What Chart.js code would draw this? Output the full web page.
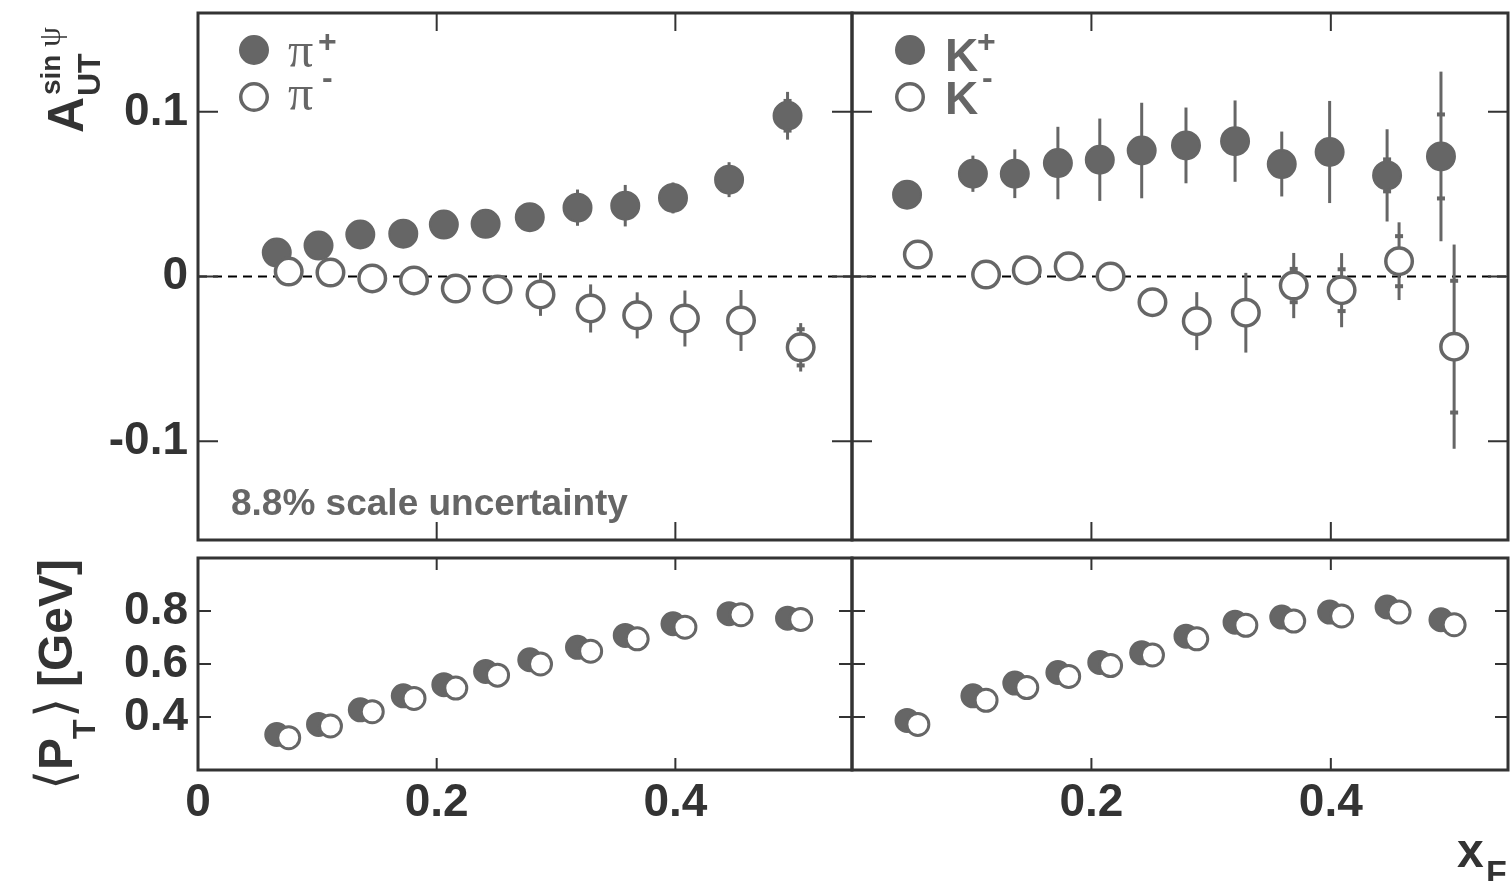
<!DOCTYPE html>
<html>
<head>
<meta charset="utf-8">
<script src="https://cdn.jsdelivr.net/npm/chart.js@4.4.1/dist/chart.umd.min.js"></script>
<style>
  html, body { margin: 0; padding: 0; background: #fff; }
  #wrap { position: relative; width: 1511px; height: 881px; overflow: hidden; }
  #wrap canvas { position: absolute; left: 0; top: 0; }
</style>
</head>
<body>
<div id="wrap">
  <canvas id="asymPion" width="1511" height="881"></canvas>
  <canvas id="asymKaon" width="1511" height="881"></canvas>
  <canvas id="ptPion" width="1511" height="881"></canvas>
  <canvas id="ptKaon" width="1511" height="881"></canvas>
</div>
<script>
// x_F bin centres
const xPiPlus  = [0.066, 0.101, 0.136, 0.172, 0.206, 0.241, 0.278, 0.318, 0.358, 0.398, 0.445, 0.494];
const xPiMinus = [0.076, 0.111, 0.146, 0.181, 0.216, 0.251, 0.287, 0.329, 0.368, 0.408, 0.455, 0.505];
const xKPlus   = [0.046, 0.101, 0.136, 0.172, 0.207, 0.242, 0.279, 0.320, 0.359, 0.399, 0.447, 0.492];
const xKMinus  = [0.055, 0.112, 0.146, 0.181, 0.216, 0.251, 0.288, 0.329, 0.369, 0.409, 0.457, 0.503];

// A_UT^{sin psi} with stat errors and syst errors
const aPiPlus    = [0.0145, 0.0188, 0.0255, 0.026, 0.0315, 0.032, 0.036, 0.0418, 0.043, 0.0477, 0.0588, 0.0976];
const errPiPlus  = [0.003, 0.003, 0.004, 0.004, 0.005, 0.005, 0.006, 0.011, 0.0126, 0.0094, 0.0106, 0.0145];
const sysPiPlus  = [0, 0, 0, 0, 0, 0, 0, 0, 0, 0, 0, 0.009];
const aPiMinus   = [0.003, 0.0024, -0.0012, -0.0024, -0.0073, -0.0079, -0.0109, -0.0194, -0.0236, -0.0255, -0.0267, -0.043];
const errPiMinus = [0.004, 0.004, 0.005, 0.005, 0.006, 0.007, 0.013, 0.0146, 0.014, 0.017, 0.0185, 0.0147];
const sysPiMinus = [0, 0, 0, 0, 0, 0, 0, 0, 0, 0, 0, 0.011];
const aKPlus     = [0.0497, 0.0624, 0.0624, 0.0689, 0.0709, 0.0765, 0.0796, 0.0822, 0.0683, 0.0756, 0.0614, 0.0729];
const errKPlus   = [0.006, 0.011, 0.0148, 0.022, 0.025, 0.029, 0.023, 0.0247, 0.0197, 0.031, 0.028, 0.0515];
const sysKPlus   = [0, 0, 0, 0, 0, 0, 0, 0, 0, 0, 0.0097, 0.0255];
const aKMinus    = [0.0133, 0.0012, 0.0038, 0.0062, 0.0, -0.0156, -0.0271, -0.022, -0.0055, -0.0083, 0.0093, -0.0426];
const errKMinus  = [0.005, 0.006, 0.006, 0.007, 0.007, 0.008, 0.0176, 0.0242, 0.0198, 0.0225, 0.0236, 0.062];
const sysKMinus  = [0, 0, 0, 0, 0, 0, 0, 0, 0.0101, 0.0127, 0.0152, 0.04];

// <P_T> in GeV
const ptPiPlus  = [0.334, 0.372, 0.427, 0.480, 0.522, 0.572, 0.616, 0.663, 0.708, 0.752, 0.790, 0.773];
const ptPiMinus = [0.322, 0.366, 0.420, 0.470, 0.509, 0.558, 0.600, 0.648, 0.695, 0.739, 0.786, 0.768];
const ptKPlus   = [0.387, 0.480, 0.528, 0.568, 0.606, 0.642, 0.705, 0.758, 0.777, 0.796, 0.815, 0.767];
const ptKMinus  = [0.372, 0.463, 0.511, 0.553, 0.594, 0.634, 0.695, 0.746, 0.762, 0.781, 0.796, 0.748];

const GREY = '#666666';
const INK = '#333333';
const SANS = '"Liberation Sans", Arial, Helvetica, sans-serif';
const SERIF = '"Liberation Serif", "Times New Roman", "DejaVu Serif", serif';
const PAGE_W = 1511, PAGE_H = 881;
const AXIS_W = 150, AXIS_H = 90;
const X_MAX = 0.548;

Chart.defaults.font.family = SANS;

function points(xs, ys) {
  return xs.map((x, i) => ({x: x, y: ys[i]}));
}

function is_multiple(v, step) {
  return Math.abs(v / step - Math.round(v / step)) < 1e-6;
}

function marker_set(label, xs, ys, filled, outer, border, errs, sys) {
  return {
    label: label,
    data: points(xs, ys),
    errY: errs || null,
    sysY: sys || null,
    pointStyle: 'circle',
    pointRadius: outer - border / 2,
    pointBorderWidth: border,
    pointBackgroundColor: filled ? GREY : '#ffffff',
    pointBorderColor: GREY,
    showLine: false
  };
}

function draw_marker(ctx, x, y, filled) {
  ctx.beginPath();
  ctx.arc(x, y, filled ? 14 : 13.25, 0, Math.PI * 2);
  ctx.fillStyle = filled ? GREY : '#ffffff';
  ctx.fill();
  ctx.lineWidth = filled ? 2 : 3.5;
  ctx.strokeStyle = GREY;
  ctx.stroke();
}

function text_at(ctx, str, x, y, font, colour) {
  ctx.font = font;
  ctx.fillStyle = colour;
  ctx.fillText(str, x, y);
}

// extra text / legend per panel, drawn after the chart
const panelText = {
  asymPion: function(ctx) {
    draw_marker(ctx, 254, 50, true);
    draw_marker(ctx, 254, 97, false);
    text_at(ctx, 'π', 288, 67, '50px ' + SERIF, GREY);
    text_at(ctx, '+', 318, 52, 'bold 32px ' + SANS, GREY);
    text_at(ctx, 'π', 288, 110, '50px ' + SERIF, GREY);
    text_at(ctx, '-', 322, 88, 'bold 32px ' + SANS, GREY);
    text_at(ctx, '8.8% scale uncertainty', 231, 515, 'bold 37px ' + SANS, GREY);

    // A_UT^{sin psi}, rotated
    ctx.save();
    ctx.translate(83, 133);
    ctx.rotate(-Math.PI / 2);
    text_at(ctx, 'A', 0, 0, 'bold 50px ' + SANS, INK);
    text_at(ctx, 'sin', 38, -23, 'bold 28px ' + SANS, INK);
    text_at(ctx, 'ψ', 86, -23, '32px ' + SERIF, INK);
    text_at(ctx, 'UT', 37, 17, 'bold 32px ' + SANS, INK);
    ctx.restore();
  },
  asymKaon: function(ctx) {
    draw_marker(ctx, 910, 50, true);
    draw_marker(ctx, 910, 97, false);
    text_at(ctx, 'K', 945, 71, 'bold 46px ' + SANS, GREY);
    text_at(ctx, '+', 977, 52, 'bold 32px ' + SANS, GREY);
    text_at(ctx, 'K', 945, 114, 'bold 46px ' + SANS, GREY);
    text_at(ctx, '-', 982, 88, 'bold 32px ' + SANS, GREY);
  },
  ptPion: function(ctx) {
    // <P_T> [GeV], rotated
    ctx.save();
    ctx.translate(72, 790);
    ctx.rotate(-Math.PI / 2);
    text_at(ctx, '⟨', 0, 0, '52px "DejaVu Sans", sans-serif', INK);
    text_at(ctx, 'P', 20, 0, 'bold 48px ' + SANS, INK);
    text_at(ctx, 'T', 51, 23, 'bold 32px ' + SANS, INK);
    text_at(ctx, '⟩', 72, 0, '52px "DejaVu Sans", sans-serif', INK);
    text_at(ctx, '[GeV]', 103, 0, 'bold 48px ' + SANS, INK);
    ctx.restore();
  },
  ptKaon: function(ctx) {
    text_at(ctx, 'x', 1457, 867, 'bold 48px ' + SANS, INK);
    text_at(ctx, 'F', 1486, 884, 'bold 34px ' + SANS, INK);
  }
};

const panelDeco = {
  id: 'panelDeco',
  beforeDatasetsDraw(chart, args, o) {
    const ctx = chart.ctx;
    const a = chart.chartArea;
    const x = chart.scales.x, y = chart.scales.y;
    ctx.save();
    ctx.beginPath();
    ctx.rect(a.left, a.top, a.right - a.left, a.bottom - a.top);
    ctx.clip();
    if (o.zeroLine) {
      const py = y.getPixelForValue(0);
      ctx.setLineDash([9, 6]);
      ctx.lineWidth = 2;
      ctx.strokeStyle = '#000000';
      ctx.beginPath();
      ctx.moveTo(a.left, py);
      ctx.lineTo(a.right, py);
      ctx.stroke();
      ctx.setLineDash([]);
    }
    chart.data.datasets.forEach(ds => {
      if (!ds.errY) return;
      ctx.strokeStyle = GREY;
      ctx.fillStyle = GREY;
      ctx.lineWidth = 3;
      ds.data.forEach((p, i) => {
        const px = x.getPixelForValue(p.x);
        ctx.beginPath();
        ctx.moveTo(px, y.getPixelForValue(p.y + ds.errY[i]));
        ctx.lineTo(px, y.getPixelForValue(p.y - ds.errY[i]));
        ctx.stroke();
        if (ds.sysY && ds.sysY[i]) {
          ctx.fillRect(px - 4, y.getPixelForValue(p.y + ds.sysY[i]) - 2, 8, 4);
          ctx.fillRect(px - 4, y.getPixelForValue(p.y - ds.sysY[i]) - 2, 8, 4);
        }
      });
    });
    ctx.restore();
  },
  afterDraw(chart, args, o) {
    const ctx = chart.ctx;
    const a = chart.chartArea;
    const x = chart.scales.x, y = chart.scales.y;
    ctx.save();
    ctx.strokeStyle = INK;
    ctx.lineWidth = 2;
    ctx.beginPath();
    x.ticks.forEach(t => {
      if (t.value <= x.min + 1e-9 || t.value >= x.max - 1e-9) return;
      const px = x.getPixelForValue(t.value);
      const len = is_multiple(t.value, 0.2) ? o.xTick[1] : o.xTick[0];
      ctx.moveTo(px, a.bottom); ctx.lineTo(px, a.bottom - len);
      ctx.moveTo(px, a.top); ctx.lineTo(px, a.top + len);
    });
    y.ticks.forEach(t => {
      if (t.value <= y.min + 1e-9 || t.value >= y.max - 1e-9) return;
      const py = y.getPixelForValue(t.value);
      const len = is_multiple(t.value, o.yMajor) ? o.yTick[1] : o.yTick[0];
      ctx.moveTo(a.left, py); ctx.lineTo(a.left + len, py);
      ctx.moveTo(a.right, py); ctx.lineTo(a.right - len, py);
    });
    ctx.stroke();
    ctx.lineWidth = 3;
    ctx.strokeRect(a.left, a.top, a.right - a.left, a.bottom - a.top);
    ctx.restore();

    ctx.save();
    ctx.textAlign = 'left';
    ctx.textBaseline = 'alphabetic';
    if (panelText[chart.canvas.id]) panelText[chart.canvas.id](ctx);
    ctx.restore();
  }
};

function render_panel(id, cfg) {
  return new Chart(document.getElementById(id), {
    type: 'scatter',
    data: { datasets: cfg.datasets },
    options: {
      responsive: false,
      animation: false,
      devicePixelRatio: 1,
      events: [],
      layout: {
        autoPadding: false,
        padding: {
          left: cfg.left - (cfg.yLabels ? AXIS_W : 0),
          top: cfg.top,
          right: PAGE_W - cfg.right,
          bottom: PAGE_H - cfg.bottom - (cfg.xLabels ? AXIS_H : 0)
        }
      },
      plugins: {
        legend: { display: false },
        tooltip: { enabled: false },
        panelDeco: { zeroLine: cfg.zeroLine, xTick: cfg.xTick, yTick: cfg.yTick, yMajor: cfg.yMajor }
      },
      scales: {
        x: {
          type: 'linear',
          min: 0,
          max: X_MAX,
          afterFit: s => {
            s.height = cfg.xLabels ? AXIS_H : 0;
            s.paddingLeft = 0;
            s.paddingRight = 0;
          },
          grid: { display: false, drawTicks: false },
          border: { display: false },
          ticks: {
            display: cfg.xLabels,
            stepSize: 0.05,
            maxTicksLimit: 100,
            autoSkip: false,
            includeBounds: false,
            maxRotation: 0,
            padding: 6,
            color: INK,
            font: { size: 46, weight: 'bold' },
            callback: v => {
              if (!is_multiple(v, 0.2)) return null;
              if (cfg.skipZero && Math.abs(v) < 1e-9) return null;
              return String(+v.toFixed(1));
            }
          }
        },
        y: {
          type: 'linear',
          min: cfg.yMin,
          max: cfg.yMax,
          afterFit: s => {
            s.width = cfg.yLabels ? AXIS_W : 0;
            s.paddingTop = 0;
            s.paddingBottom = 0;
          },
          grid: { display: false, drawTicks: false },
          border: { display: false },
          ticks: {
            display: cfg.yLabels,
            stepSize: cfg.yStep,
            maxTicksLimit: 100,
            autoSkip: false,
            includeBounds: false,
            padding: 10,
            color: INK,
            font: { size: 46, weight: 'bold' },
            callback: v => {
              if (!is_multiple(v, cfg.yMajor)) return null;
              if (v <= cfg.yMin + 1e-9 || v >= cfg.yMax - 1e-9) return null;
              return String(+v.toFixed(1));
            }
          }
        }
      }
    },
    plugins: [panelDeco]
  });
}

const topPanel = { top: 13, bottom: 540, yMin: -0.16, yMax: 0.16, yStep: 0.02, yMajor: 0.1,
  zeroLine: true, xLabels: false, xTick: [10, 18], yTick: [10, 20] };
const lowPanel = { top: 558, bottom: 770, yMin: 0.2, yMax: 1.0, yStep: 0.05, yMajor: 0.2,
  zeroLine: false, xLabels: true, xTick: [7, 12], yTick: [7, 13] };

render_panel('asymPion', Object.assign({}, topPanel, {
  left: 198, right: 852, yLabels: true,
  datasets: [
    marker_set('π-', xPiMinus, aPiMinus, false, 15, 3.5, errPiMinus, sysPiMinus),
    marker_set('π+', xPiPlus, aPiPlus, true, 15, 2, errPiPlus, sysPiPlus)
  ]
}));

render_panel('asymKaon', Object.assign({}, topPanel, {
  left: 852, right: 1508, yLabels: false,
  datasets: [
    marker_set('K-', xKMinus, aKMinus, false, 15, 3.5, errKMinus, sysKMinus),
    marker_set('K+', xKPlus, aKPlus, true, 15, 2, errKPlus, sysKPlus)
  ]
}));

render_panel('ptPion', Object.assign({}, lowPanel, {
  left: 198, right: 852, yLabels: true, skipZero: false,
  datasets: [
    marker_set('π-', xPiMinus, ptPiMinus, false, 12.5, 3, null, null),
    marker_set('π+', xPiPlus, ptPiPlus, true, 12.5, 2, null, null)
  ]
}));

render_panel('ptKaon', Object.assign({}, lowPanel, {
  left: 852, right: 1508, yLabels: false, skipZero: true,
  datasets: [
    marker_set('K-', xKMinus, ptKMinus, false, 12.5, 3, null, null),
    marker_set('K+', xKPlus, ptKPlus, true, 12.5, 2, null, null)
  ]
}));
</script>
</body>
</html>
